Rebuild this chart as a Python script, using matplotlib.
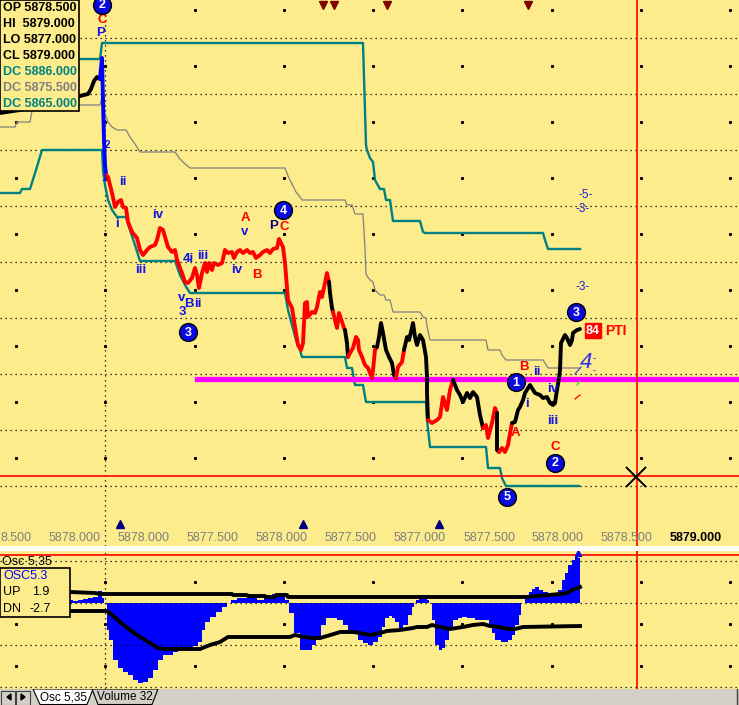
import numpy as np
import matplotlib.pyplot as plt
from matplotlib.patches import Rectangle, Polygon

plt.rcParams['font.family'] = ['Liberation Sans', 'DejaVu Sans']

W, H = 739, 705
BG = '#FCEC8C'
TEAL = '#008080'
GREY = '#808080'
BLUE = '#0000FF'
RED = '#FF0000'

# price path (x = bar slot, y = price row, smaller = higher)
price_x = [0, 20, 45, 65, 80, 88, 91, 94, 97, 100, 102, 103, 104, 105, 106,
           108, 112, 115, 118, 121, 123, 126, 128, 132, 137, 140, 143, 147, 150, 155,
           157, 160, 163, 168, 172, 175, 177, 182, 185, 188, 192, 195, 197, 199, 202,
           205, 207, 209, 212, 214, 218, 222, 225, 228, 232, 234, 237, 240, 243, 247,
           250, 253, 256, 260, 263, 267, 270, 273, 277, 279, 283, 285, 288, 292, 295,
           298, 301, 303, 305, 307, 308, 312, 315, 317, 320, 322, 325, 327, 329,
           330, 332, 333, 335, 337, 339, 342, 344, 345, 347, 348,
           350, 353, 356, 358, 359, 362, 365, 368, 372, 373, 375, 377,
           379, 381, 383, 386, 389, 392, 394, 396, 398, 402, 404,
           407, 409, 411, 413, 415, 417, 420, 423, 426, 427, 427, 428,
           432, 437, 440, 443, 447, 450, 453,
           457, 460, 463, 467, 470, 473, 477, 480, 483,
           486, 488, 492, 495, 497, 497, 499, 502, 505, 508, 511, 512,
           515, 518, 520, 523, 525, 530, 535, 540, 543, 547, 550, 553, 555, 557,
           559, 560, 561, 565, 567, 570, 572, 573, 577, 580]
price_y = [113, 110, 103, 98, 96, 94, 89, 81, 77, 79, 58, 100, 140, 165, 175,
           177, 193, 207, 202, 200, 207, 208, 222, 232, 238, 250, 255, 250, 247, 245,
           240, 228, 230, 247, 252, 250, 260, 273, 282, 283, 278, 268, 275, 288, 273,
           263, 272, 263, 270, 263, 265, 263, 250, 253, 252, 258, 252, 250, 253, 250,
           253, 252, 258, 255, 252, 250, 253, 249, 248, 239, 247, 263, 300, 308, 327,
           345, 350, 343, 303, 302, 317, 312, 313, 307, 292, 297, 283, 273, 282,
           293, 308, 312, 320, 328, 313, 322, 328, 330, 343, 357,
           353, 348, 337, 340, 350, 357, 365, 368, 378, 370, 350, 347,
           337, 323, 333, 350, 357, 363, 375, 378, 367, 362, 350,
           337, 340, 332, 323, 337, 345, 335, 340, 357, 377, 393, 420,
           423, 420, 417, 397, 410, 390, 380,
           390, 395, 402, 393, 398, 392, 397, 415, 428,
           425, 438, 423, 408, 413, 450, 452, 448, 452, 445, 428, 423,
           422, 410, 407, 400, 393, 385, 393, 395, 398, 397, 403, 405, 403, 390,
           378, 370, 343, 335, 338, 345, 340, 333, 330, 329]
colour_from_x = [0, 100, 106, 329, 333, 345, 348, 377, 396, 404, 428, 453, 483, 497, 499, 512]
colour_code = ['k', 'b', 'r', 'k', 'r', 'k', 'r', 'k', 'r', 'k', 'r', 'k', 'r', 'k', 'r', 'k']

# Donchian channel: upper, middle, lower
dc_up_x = [0, 100, 102, 363, 364, 365, 366, 367, 370, 373, 375, 380, 384, 386, 390,
           393, 420, 423, 425, 543, 545, 548, 580]
dc_up_y = [59, 59, 43, 43, 77, 111, 145, 150, 158, 162, 180, 189, 189, 200, 200,
           221, 221, 232, 233, 233, 240, 249, 249]
dc_lo_x = [0, 20, 22, 30, 36, 42, 102, 103, 105, 108, 112, 117, 126, 130, 135, 140,
           175, 180, 185, 190, 285, 288, 292, 296, 300, 302, 345, 347, 352, 355,
           363, 366, 426, 427, 430, 486, 488, 500, 502, 506, 579]
dc_lo_y = [193, 193, 189, 189, 170, 150, 150, 170, 185, 200, 210, 217, 217, 230, 245, 261,
           261, 275, 285, 293, 293, 310, 325, 340, 350, 357, 357, 368, 368, 385,
           385, 402, 402, 420, 447, 447, 468, 468, 478, 486, 486]
dc_mid_x = [0, 15, 17, 30, 33, 100, 102, 103, 105, 108, 112, 117, 126, 130, 135, 140,
            175, 180, 185, 190, 285, 288, 292, 296, 300, 302, 345, 347, 352, 355, 363,
            364, 365, 366, 367, 370, 373, 375, 380, 384, 386, 390, 393, 420, 423, 426,
            427, 430, 486, 488, 500, 502, 506, 543, 545, 548, 580]
dc_mid_y = [127, 127, 122, 122, 105, 105, 97, 107, 114, 122, 127, 130, 130, 137, 144, 152,
            152, 159, 164, 168, 168, 176, 184, 192, 197, 200, 200, 205, 205, 214, 214,
            231, 248, 274, 276, 280, 282, 290, 295, 295, 300, 300, 312, 312, 317, 318,
            326, 340, 340, 350, 350, 355, 360, 360, 363, 368, 368]

# oscillator 5,35 histogram and its bands (zero row = 603)
osc_x = [70, 75, 80, 85, 90, 95, 100, 103, 105, 108, 110, 115, 120, 125, 130, 135, 140,
         145, 150, 155, 160, 165, 170, 175, 180, 185, 190, 195, 200, 203, 207, 213, 218,
         225, 228, 233, 240, 253, 260, 267, 277, 283, 287, 290, 297, 302, 310, 313,
         318, 323, 328, 333, 340, 345, 350, 355, 360, 365, 370, 375, 380, 383, 387,
         390, 393, 397, 400, 405, 410, 413, 415, 417, 420, 425, 428, 430, 433, 437,
         440, 443, 447, 450, 455, 460, 463, 470, 480, 487, 490, 493, 497, 505, 510,
         513, 517, 520, 522, 527, 530, 533, 537, 540, 545, 550, 555, 560, 563, 566,
         570, 573, 576, 580]
osc_y = [600, 601, 600, 599, 598, 597, 591, 598, 603, 630, 640, 660, 668, 672, 675, 680, 683,
         682, 678, 670, 660, 655, 655, 652, 650, 650, 648, 646, 642, 630, 622, 617, 612,
         607, 603, 600, 598, 597, 600, 598, 594, 593, 600, 613, 633, 650, 650, 645,
         640, 625, 618, 618, 620, 625, 630, 633, 640, 643, 645, 642, 637, 627, 618,
         616, 618, 622, 628, 625, 615, 607, 603, 600, 597, 595, 600, 603, 620, 645,
         650, 648, 640, 628, 620, 618, 617, 618, 620, 620, 625, 633, 640, 642, 640,
         635, 625, 615, 603, 595, 592, 589, 587, 590, 592, 593, 593, 590, 580, 573,
         565, 560, 557, 558]
osc_up_x = [70, 95, 100, 232, 233, 247, 248, 265, 266, 275, 276, 287, 288, 527, 537,
            560, 567, 570, 580]
osc_up_y = [592, 593, 594, 594, 595, 595, 596, 596, 597, 597, 595, 595, 597, 597, 596,
            594, 593, 591, 587]
osc_dn_x = [70, 107, 112, 120, 130, 140, 150, 158, 165, 200, 210, 220, 228, 290, 295,
            300, 303, 313, 320, 327, 337, 340, 353, 360, 370, 380, 387, 400, 413, 417,
            427, 432, 440, 450, 463, 473, 483, 490, 500, 507, 515, 523, 580]
osc_dn_y = [611, 611, 615, 622, 630, 637, 643, 648, 649, 649, 645, 642, 637, 637, 635,
            636, 637, 638, 638, 636, 633, 632, 632, 633, 635, 633, 631, 630, 628, 627,
            627, 625, 627, 629, 627, 625, 624, 626, 627, 629, 629, 627, 626]

info_lines = ['OP 5878.500', 'HI  5879.000', 'LO 5877.000', 'CL 5879.000',
              'DC 5886.000', 'DC 5875.500', 'DC 5865.000']
info_colours = ['black', 'black', 'black', 'black', TEAL, GREY, TEAL]

axis_labels = ['8.500', '5878.000', '5878.000', '5877.500', '5878.000', '5877.500',
               '5877.000', '5877.500', '5878.000', '5878.500', '5879.000']
axis_label_x = [16, 75, 144, 213, 282, 351, 420, 490, 558, 626, 696]

wave_text = ['C', 'P', 'ii', 'i', 'iv', 'iii', '4i', 'iii', 'iv', 'B', 'A', 'v', 'P', 'C',
             'v', 'B', 'ii', '3', 'A', 'B', 'ii', 'i', 'iv', 'iii', 'C', '1', '2']
wave_x = [102, 101, 123, 117, 158, 141, 188, 203, 237, 257, 245, 245, 274, 284,
          182, 189, 198, 182, 515, 524, 537, 527, 553, 553, 555, 104, 107]
wave_y = [20, 33, 182, 224, 215, 270, 259, 256, 270, 275, 218, 232, 226, 227,
          298, 304, 304, 312, 433, 367, 372, 404, 389, 421, 447, 178, 145]
wave_col = ['r', 'b', 'b', 'b', 'b', 'b', 'b', 'b', 'b', 'r', 'r', 'b', 'n', 'r',
            'b', 'b', 'b', 'b', 'r', 'r', 'b', 'b', 'b', 'b', 'r', 'b', 'b']

circle_num = ['2', '4', '3', '5', '1', '2', '3']
circle_x = [102, 283, 188, 507, 516, 555, 576]
circle_y = [5, 210, 332, 497, 382, 463, 312]

top_marks_x = [323, 334, 387, 528]
bottom_marks_x = [120, 303, 439]

fig = plt.figure(figsize=(W / 100, H / 100), dpi=100)
fig.patch.set_facecolor('white')


def panel(y0, y1, colour):
    ax = fig.add_axes([0, 1 - y1 / H, 1, (y1 - y0) / H])
    ax.set_xlim(0, W)
    ax.set_ylim(y1, y0)
    ax.set_facecolor(colour)
    ax.set_xticks([])
    ax.set_yticks([])
    for s in ax.spines.values():
        s.set_visible(False)
    return ax


ax = panel(0, 546, BG)
osc = panel(551, 689, BG)
bar = panel(689, 705, '#D4D0C8')

dot = dict(color='black', lw=0.9, ls=(0, (1, 3)), zorder=1)
gx = 16 + 89.25 * np.arange(9)

# main panel grid
for gy in 38 + 56 * np.arange(9):
    ax.axhline(gy, **dot)
ax.axvline(105, **dot)
for gy in 10 + 56 * np.arange(9):
    ax.plot(gx, [gy] * len(gx), ls='none', marker='s', ms=1.2, color='black', zorder=1)

# channel
ax.plot(dc_up_x, dc_up_y, color=TEAL, lw=1.7, zorder=2)
ax.plot(dc_lo_x, dc_lo_y, color=TEAL, lw=1.7, zorder=2)
ax.plot(dc_mid_x, dc_mid_y, color=GREY, lw=0.9, zorder=2)

ax.plot([197, W], [379, 379], color='#FF00FF', lw=3.8, zorder=3)
ax.axhline(476, color=RED, lw=1.2, zorder=3)
ax.axvline(637, color=RED, lw=1.2, zorder=3)
osc.axvline(637, color=RED, lw=1.2, zorder=3)
osc.axhline(555, color=RED, lw=1.2, zorder=3)
ax.plot([636], [477], marker='x', ms=14, mew=1.4, color='black', zorder=6)

# price
cmap = {'k': 'black', 'b': BLUE, 'r': RED}


def seg_colour(x):
    return colour_code[np.searchsorted(colour_from_x, x, side='right') - 1]


runs = []
cur = seg_colour(price_x[0])
xs, ys = [price_x[0]], [price_y[0]]
for i in range(1, len(price_x)):
    c = seg_colour(price_x[i - 1])
    if c != cur:
        runs.append((cur, xs, ys))
        xs, ys, cur = [price_x[i - 1]], [price_y[i - 1]], c
    xs.append(price_x[i])
    ys.append(price_y[i])
runs.append((cur, xs, ys))
for c, xs, ys in runs:
    ax.plot(xs, ys, color=cmap[c], lw=2.8, solid_capstyle='round', zorder=4)

# wave labels
wcol = {'r': RED, 'b': '#1414E6', 'n': '#000080'}
for t, x, y, c in zip(wave_text, wave_x, wave_y, wave_col):
    fs = 7 if t in ('1', '2') else 9.5
    ax.text(x, y, t, color=wcol[c], fontsize=fs, fontweight='bold',
            ha='center', va='center', zorder=7)
ax.scatter(circle_x, circle_y, s=165, color='#0A0AE0', edgecolors='black',
           linewidths=1.0, zorder=8)
for t, x, y in zip(circle_num, circle_x, circle_y):
    ax.text(x, y + 0.5, t, color='white', fontsize=9, fontweight='bold',
            ha='center', va='center', zorder=9)

# projection marks on the right
for t, x, y in [('-5-', 586, 195), ('-3-', 583, 209), ('-3-', 583, 287)]:
    ax.text(x, y, t, color='#2020E0', fontsize=8.5, ha='center', va='center', zorder=7)
ax.text(586, 362, '4', color='#3030E8', fontsize=16, style='italic',
        ha='center', va='center', zorder=7)
ax.text(594, 358, '-', color='#3030E8', fontsize=7, ha='center', va='center')
ax.text(594, 370, '-', color='#3030E8', fontsize=7, ha='center', va='center')
ax.plot([575, 581], [374, 367], color='#3030E8', lw=0.8, zorder=7)
ax.plot([577, 580], [385, 381], color='#40D040', lw=0.9, zorder=7)
ax.plot([575, 580], [399, 395], color=RED, lw=0.9, zorder=7)
ax.add_patch(Rectangle((585, 323), 16, 15, color=RED, zorder=7))
ax.text(593, 331, '84', color='white', fontsize=9, fontweight='bold',
        ha='center', va='center', zorder=8)
ax.text(605, 331, 'PTI', color=RED, fontsize=10, fontweight='bold',
        ha='left', va='center', zorder=8)

ax.plot(top_marks_x, [5] * len(top_marks_x), ls='none', marker='v', ms=6,
        color='#800000', zorder=6)
ax.plot(bottom_marks_x, [524] * len(bottom_marks_x), ls='none', marker='^', ms=6,
        color='#000080', zorder=6)

for i, (t, x) in enumerate(zip(axis_labels, axis_label_x)):
    last = i == len(axis_labels) - 1
    ax.text(x, 538, t, color='black' if last else '#7F7F7F', fontsize=9,
            fontweight='bold' if last else 'normal', ha='center', va='center')

# info box
ax.add_patch(Rectangle((0, 0), 79, 111, facecolor=BG, edgecolor='black', lw=1.2, zorder=10))
for i, (t, c) in enumerate(zip(info_lines, info_colours)):
    ax.text(3, 8 + 16 * i, t, color=c, fontsize=9, fontweight='bold',
            ha='left', va='center', zorder=11)

# oscillator panel
for gy in [561, 603, 645, 687]:
    osc.axhline(gy, **dict(dot, zorder=3))
osc.axvline(105, **dot)
for gy in [582, 624, 666]:
    osc.plot(gx, [gy] * len(gx), ls='none', marker='s', ms=1.2, color='black', zorder=1)
osc.fill_between(osc_x, 603, osc_y, step='mid', color=BLUE, lw=0, zorder=2)
osc.plot(osc_up_x, osc_up_y, color='black', lw=2.8, zorder=4)
osc.plot(osc_dn_x, osc_dn_y, color='black', lw=2.8, zorder=4)
osc.plot([578], [553], marker='^', ms=4, color=BLUE, zorder=5)
osc.text(2, 561, 'Osc 5,35', fontsize=9, ha='left', va='center', zorder=6)
osc.add_patch(Rectangle((0, 568), 70, 49, facecolor=BG, edgecolor='black', lw=1.2, zorder=10))
osc.text(3, 576, 'OSC5.3', color=BLUE, fontsize=9, ha='left', va='center', zorder=11)
osc.text(3, 592, 'UP', fontsize=9, ha='left', va='center', zorder=11)
osc.text(32, 592, '1.9', fontsize=9, ha='left', va='center', zorder=11)
osc.text(3, 609, 'DN', fontsize=9, ha='left', va='center', zorder=11)
osc.text(29, 609, '-2.7', fontsize=9, ha='left', va='center', zorder=11)

# tab bar
for bx in (1, 16):
    bar.add_patch(Rectangle((bx, 690.5), 14, 14, facecolor='#D4D0C8',
                            edgecolor='#404040', lw=0.8))
bar.add_patch(Polygon([(7, 697), (11, 694), (11, 700)], color='black'))
bar.add_patch(Polygon([(25, 697), (21, 694), (21, 700)], color='black'))
bar.add_patch(Polygon([(92, 689), (98, 704.5), (152, 704.5), (158, 689)],
                      facecolor='#D4D0C8', edgecolor='black', lw=0.8))
bar.add_patch(Polygon([(33, 689), (40, 704.5), (87, 704.5), (93, 689)],
                      facecolor='white', edgecolor='black', lw=0.8))
bar.text(63, 697, 'Osc 5,35', fontsize=8.5, ha='center', va='center')
bar.text(125, 697, 'Volume 32', fontsize=8.5, ha='center', va='center')
bar.axvline(737, color='#404040', lw=1)

fig.savefig('out.png', dpi=100)
